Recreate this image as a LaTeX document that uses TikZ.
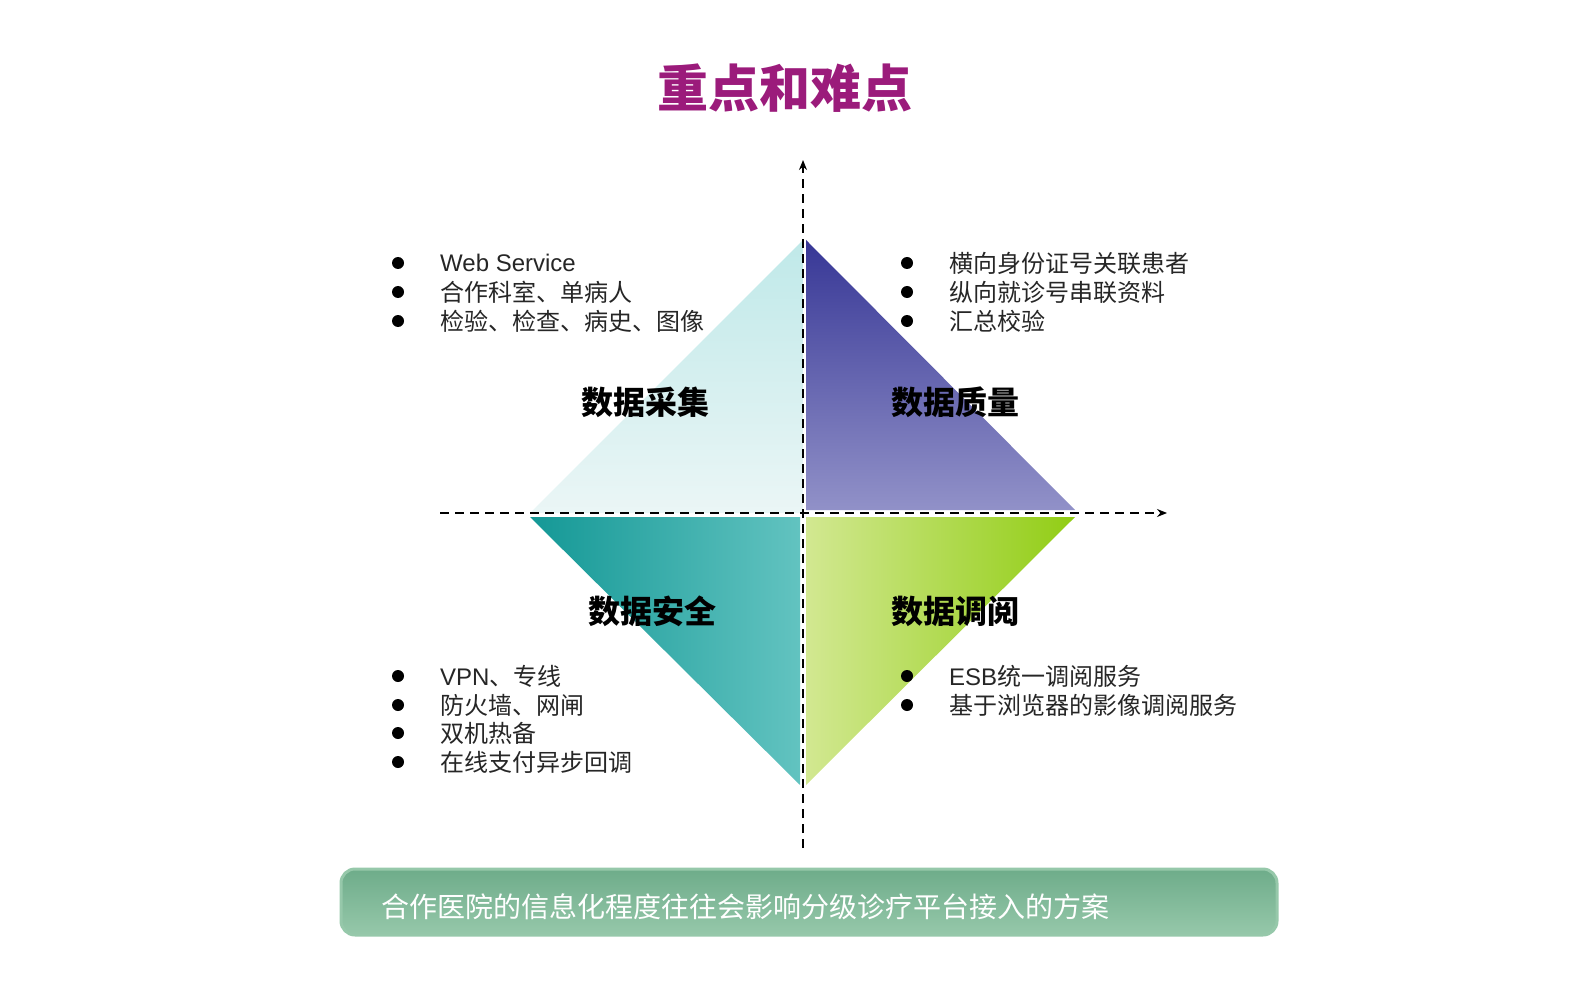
\documentclass[tikz,border=0pt]{standalone}
\usepackage{fontspec}
\setmainfont{Noto Sans CJK SC}
\newfontfamily\lat{Liberation Sans}
\usetikzlibrary{arrows.meta}
\definecolor{ttl}{HTML}{9B1B7B}
\begin{document}
\begin{tikzpicture}[x=1pt,y=-1pt,
  axis/.style={dashed,line width=1.6pt,dash pattern=on 9pt off 6pt,-{Stealth[length=10pt,width=8pt]}},
  lbl/.style={font=\fontsize{32}{32}\selectfont\bfseries,text=black},
  itm/.style={anchor=west,font=\fontsize{24}{24}\selectfont,text=black!85,inner sep=0pt},
  dot/.style={circle,fill=black,inner sep=0pt,minimum size=12pt}]
\node[font=\fontsize{51}{51}\selectfont\bfseries,text=ttl] (title) at (785,88) {重点和难点};
% triangles
\shade[top color=cyan!30!teal!25,bottom color=cyan!10!teal!8] (803,240) -- (530,513) -- (803,513) -- cycle;
\shade[top color={rgb,255:red,55;green,55;blue,150},bottom color={rgb,255:red,145;green,145;blue,200}] (806,240) -- (806,510) -- (1075,510) -- cycle;
\shade[left color={rgb,255:red,20;green,152;blue,150},right color={rgb,255:red,98;green,195;blue,192}] (530,517) -- (800,517) -- (800,785) -- cycle;
\shade[left color={rgb,255:red,210;green,232;blue,145},right color={rgb,255:red,145;green,205;blue,20}] (806,517) -- (1075,517) -- (806,785) -- cycle;
% axes
\coordinate (vb) at (803,848); \coordinate (vt) at (803,160);
\coordinate (hl) at (440,513); \coordinate (hr) at (1167,513);
\draw[axis] (vb) -- (vt);
\draw[axis] (hl) -- (hr);
% labels
\node[lbl] (l1) at (645,402) {数据采集};
\node[lbl] (l2) at (955,402) {数据质量};
\node[lbl] (l3) at (652,611) {数据安全};
\node[lbl] (l4) at (955,611) {数据调阅};
% bullets
\foreach \y/\t [count=\i] in {263/{\lat Web Service},292/{合作科室、单病人},321/{检验、检查、病史、图像}}{
  \node[dot] (a\i) at (398,\y) {}; \node[itm] (at\i) at (440,\y) {\t};}
\foreach \y/\t [count=\i] in {263/{横向身份证号关联患者},292/{纵向就诊号串联资料},321/{汇总校验}}{
  \node[dot] (b\i) at (907,\y) {}; \node[itm] (bt\i) at (949,\y) {\t};}
\foreach \y/\t [count=\i] in {676/{{\lat VPN}、专线},705/{防火墙、网闸},733/{双机热备},762/{在线支付异步回调}}{
  \node[dot] (c\i) at (398,\y) {}; \node[itm] (ct\i) at (440,\y) {\t};}
\foreach \y/\t [count=\i] in {676/{{\lat ESB}统一调阅服务},705/{基于浏览器的影像调阅服务}}{
  \node[dot] (d\i) at (907,\y) {}; \node[itm] (dt\i) at (949,\y) {\t};}
% bottom box
\node[draw={rgb,255:red,150;green,200;blue,170},line width=3pt,rounded corners=14pt,
  top color={rgb,255:red,110;green,172;blue,138},bottom color={rgb,255:red,150;green,200;blue,170},
  minimum width=936pt,minimum height=66pt] (box) at (809,902) {};
\node[anchor=west,text=white,font=\fontsize{28}{28}\selectfont] (boxt) at (378,907) {合作医院的信息化程度往往会影响分级诊疗平台接入的方案};
\pgfresetboundingbox
\useasboundingbox (0,0) rectangle (1587,992);
\end{tikzpicture}
\end{document}
